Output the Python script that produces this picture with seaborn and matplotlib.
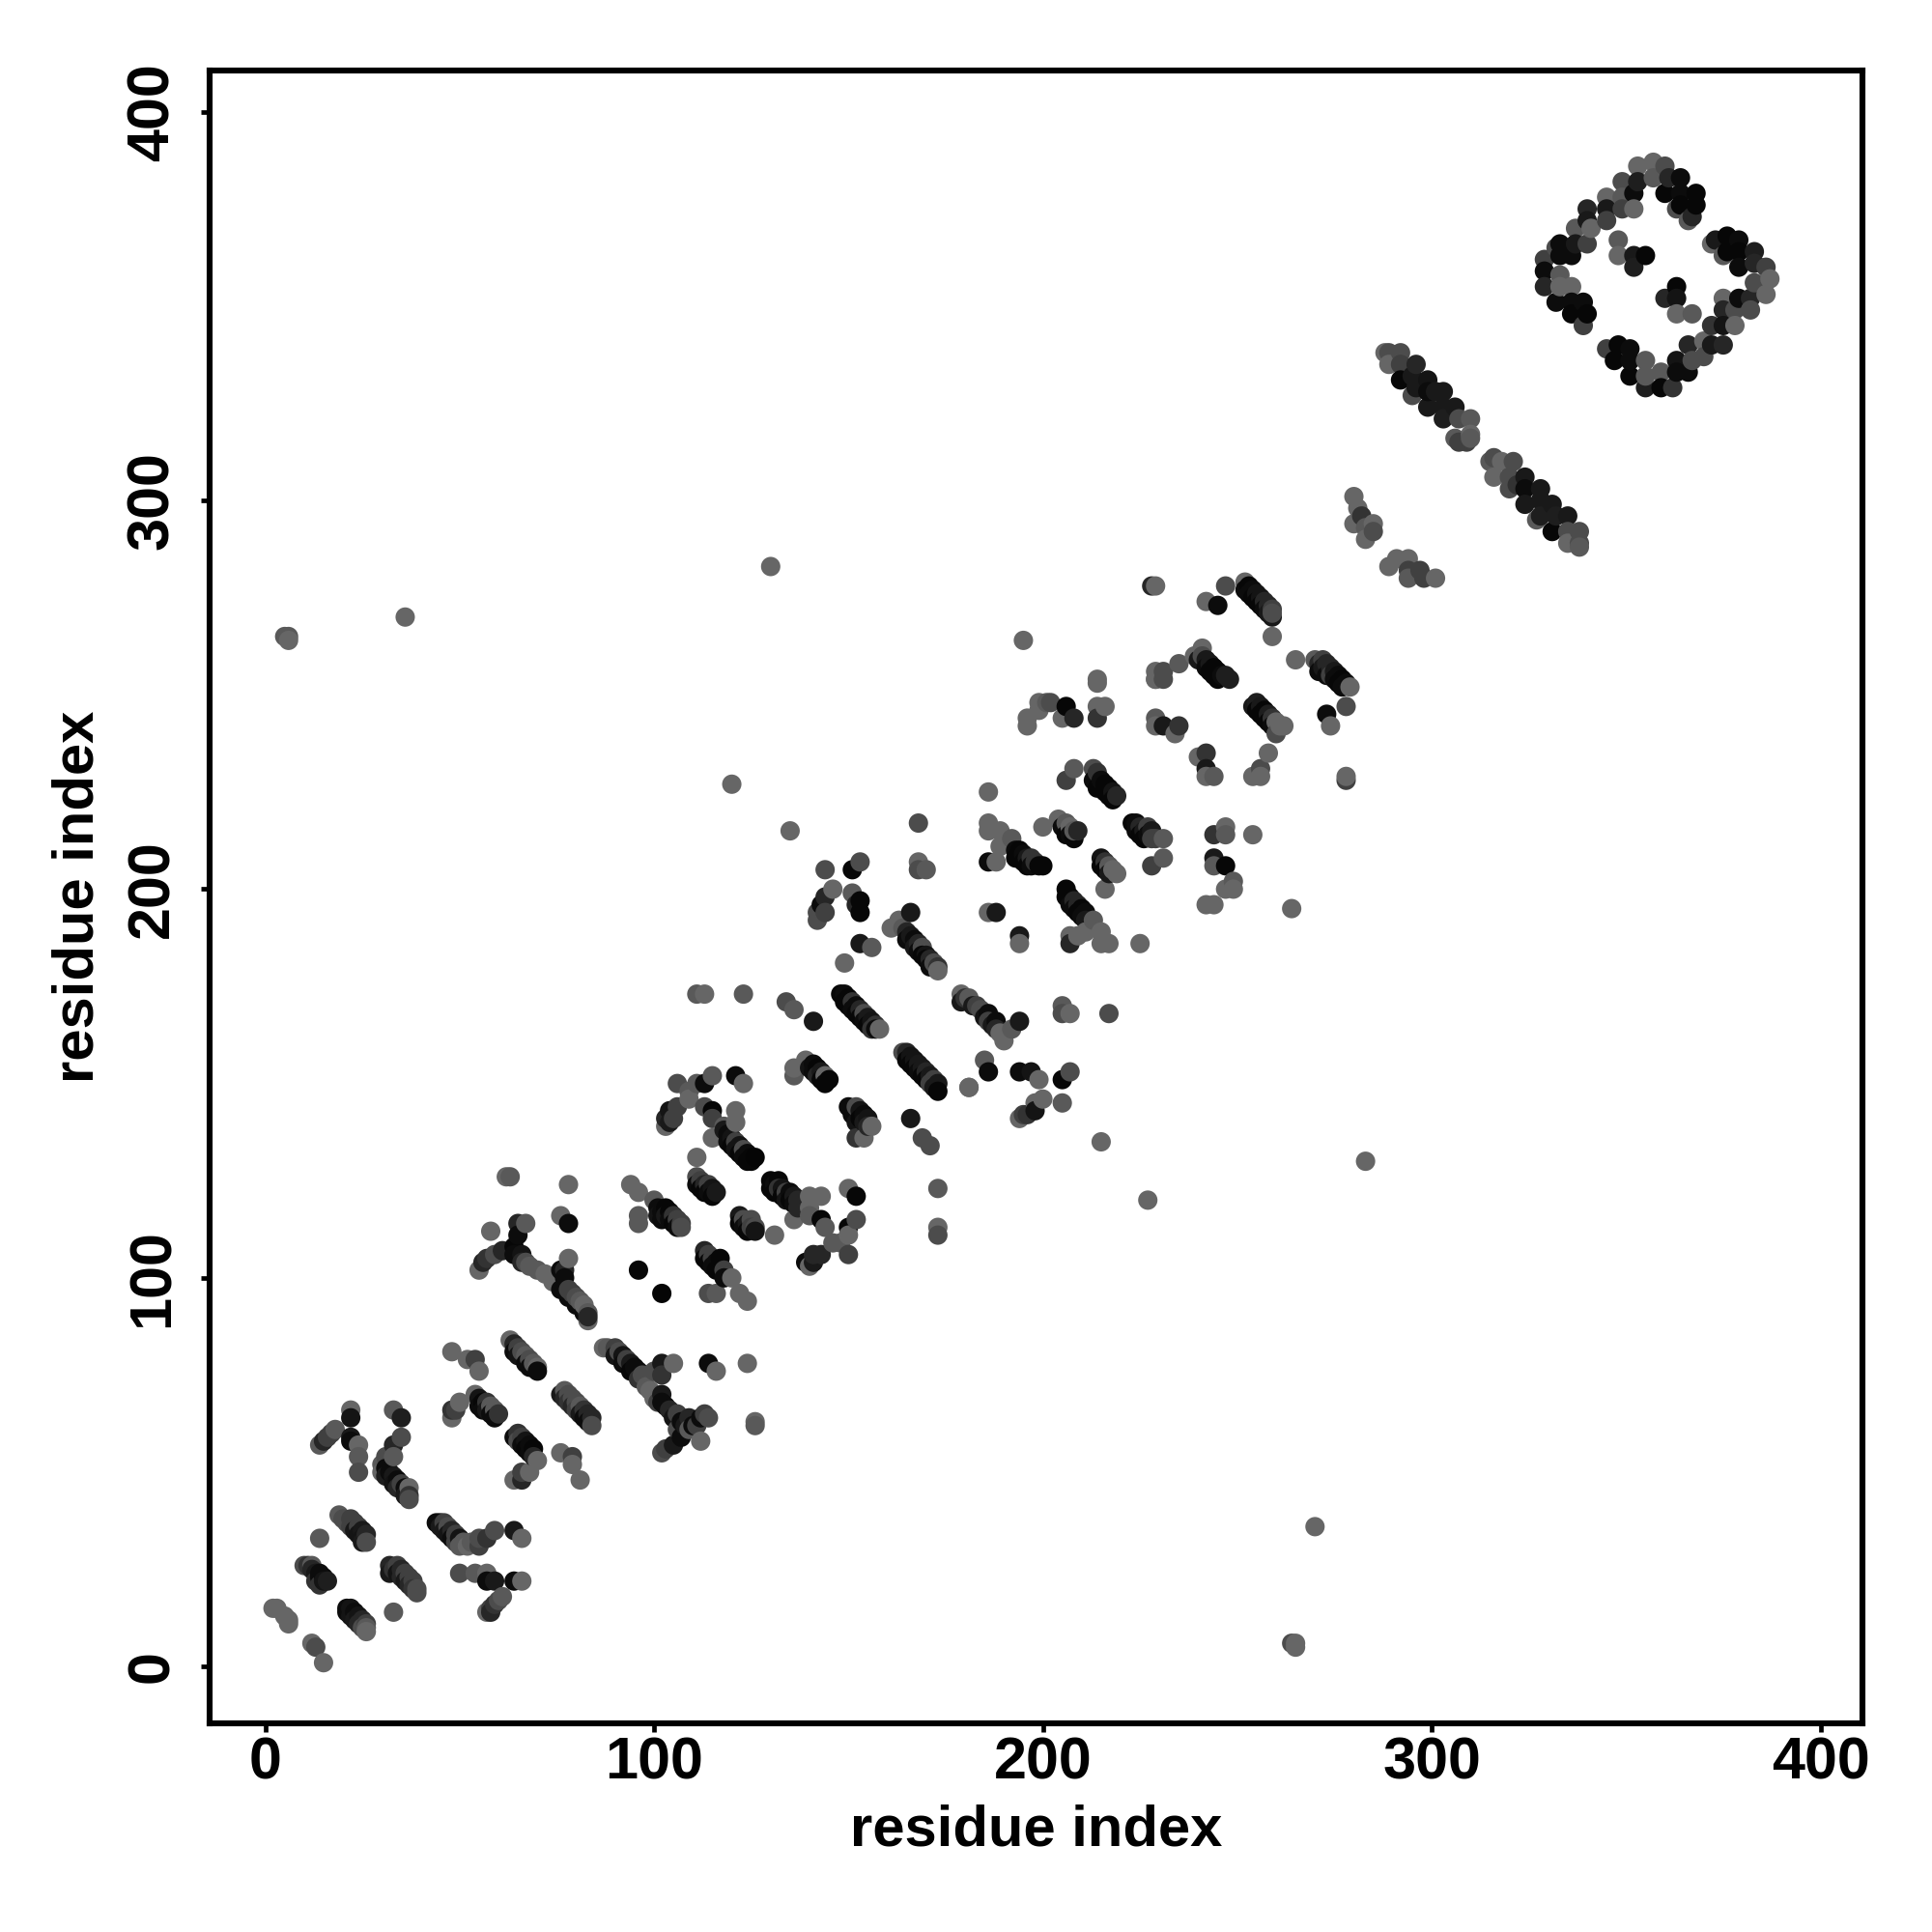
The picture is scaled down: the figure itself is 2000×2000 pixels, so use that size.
import matplotlib
matplotlib.use("Agg")
import matplotlib.pyplot as plt
import pandas as pd
import seaborn as sns

# each contact: (residue i, residue j, grey level in percent)
region_a = [(2,15,40),(3,15,40),(5,13,40),(6,12,40),(6,11,40),(12,6,40),(13,5,30),(15,1,40),
 (21,15,5),(21,14,5),(22,15,8),(22,13,8),(23,14,5),(23,12,10),(24,13,8),(24,11,15),(25,12,15),(25,10,30),(26,11,25),(26,10,35),(26,9,40),(33,14,35),
 (10,26,30),(11,26,20),(12,26,35),(12,25,15),(13,24,10),(13,22,20),(14,24,5),(14,23,5),(14,21,20),(15,23,5),(15,22,8),(16,22,12),(14,33,35),
 (19,39,35),(20,38,30),(21,37,30),(22,38,25),(22,36,25),(23,37,25),(23,35,10),(24,36,25),(24,34,8),(25,35,10),(25,33,8),(26,34,15),(26,32,30),(25,32,10),
 (32,26,15),(32,24,10),(33,25,20),(34,26,25),(34,24,8),(35,25,15),(35,23,15),(36,24,25),(36,22,10),(37,23,25),(37,21,15),(38,22,25),(38,20,20),(39,19,30),(39,20,30),
 (50,24,30),(54,24,35),(57,24,40),(57,22,5),(59,22,10),(64,22,5),(66,22,40),(61,18,35),(60,17,30),(59,16,20),(58,15,25),(57,14,40),(58,14,15)]
region_b = [(44,37,5),(45,37,5),(46,37,25),(45,36,10),(46,35,10),(47,36,30),(47,34,8),(48,35,15),(48,33,5),(49,34,25),(49,32,25),(50,33,8),(50,31,35),(51,32,35),(52,31,40),(53,32,35),(55,31,25),(55,33,30),(57,33,20),(59,35,30),
 (64,35,10),(66,33,40),(14,57,35),(15,58,15),(16,59,25),(18,61,35),(17,60,25),(22,66,40),(22,64,8),(22,59,10),(22,58,5),(24,57,40),(24,54,35),(24,50,30),
 (33,66,35),(35,64,12),(35,59,30),(33,57,15),(31,54,30),(33,54,35),(30,52,35),(30,50,40),(31,51,5),(31,49,12),(32,50,5),(33,49,10),(33,47,8),(34,48,5),(34,46,15),(35,47,25),(36,46,5),(36,44,10),(37,46,40),(37,44,20),(37,43,30),
 (48,81,40),(52,79,40),(54,79,25),(55,76,40),(63,84,40),(64,83,15),(64,81,5),(65,82,25),(65,80,8),(66,81,30),(67,80,35),(67,78,5),(68,79,30),(68,77,5),(69,78,35),(70,77,40),(70,76,5),
 (48,64,40),(48,66,20),(50,68,40),(49,66,25),(54,70,40),(55,69,8),(55,67,5),(56,68,3),(56,66,5),(57,68,20),(57,66,10),(58,67,35),(58,65,5),(59,66,35),(59,64,5),(60,65,20),
 (64,59,5),(65,60,20),(65,58,30),(66,59,25),(66,57,5),(67,58,8),(67,56,3),(68,57,5),(68,55,5),(69,56,3),(69,54,15),(70,53,40),(64,48,40),(66,48,15),(66,50,25),(68,50,40),(76,55,40),(79,54,25),(79,52,40),(81,48,40),
 (76,70,10),(77,71,35),(77,69,15),(78,70,30),(78,68,20),(79,69,30),(79,67,15),(80,68,30),(80,66,25),(81,67,35),(81,65,10),(82,66,20),(82,64,5),(83,65,15),(83,63,5),(84,64,15),(84,62,30)]
region_c = [(111,173,35),(113,173,40),(123,173,35),(134,171,30),(136,169,35),(141,166,10),
 (148,173,3),(149,173,5),(149,171,3),(150,172,3),(150,170,3),(151,171,20),(151,169,5),(152,170,5),(152,168,3),(153,169,15),(153,167,3),(154,168,30),(154,166,5),(155,167,10),(155,165,3),(156,166,8),(156,164,20),(157,165,20),(157,164,5),(158,164,40),
 (164,158,30),(165,158,15),(165,156,3),(166,157,8),(166,155,3),(167,156,8),(167,154,3),(168,155,10),(168,153,5),(169,154,10),(169,152,3),(170,153,15),(170,151,3),(171,152,10),(171,150,25),(172,151,25),(172,149,10),(173,150,10),(173,148,3),
 (166,141,10),(169,136,30),(171,134,30),(173,123,35),(173,113,40),(173,111,30),(181,149,40),
 (136,152,35),(136,154,40),(139,156,40),(140,154,8),(141,155,5),(141,153,5),(142,154,3),(142,152,15),(143,153,10),(143,151,3),(144,152,40),(144,150,3),(145,151,3),
 (150,144,5),(151,142,5),(152,144,30),(152,140,8),(153,143,8),(153,141,3),(154,142,5),(154,140,10),(155,141,8),(155,139,15),(156,139,40),(152,136,20),(154,136,40),
 (106,150,30),(111,150,35),(113,150,5),(115,152,35),(121,152,5),(123,150,40),(109,148,35),(109,146,40),(106,144,25),(104,143,8),(105,141,25),(104,140,10),(103,139,40),(103,141,15),
 (113,144,30),(115,143,3),(121,143,40),(121,140,40),(115,141,25),(118,139,35),(115,136,40),(111,131,40),
 (118,138,10),(119,137,5),(119,135,5),(120,136,8),(120,134,3),(121,135,25),(121,133,8),(122,134,8),(122,132,3),(123,133,30),(123,131,5),(124,132,5),(124,130,3),(125,131,3),(126,131,2),(125,130,3)]
region_d = [(78,124,40),(76,116,40),(78,114,5),(94,124,40),(96,122,40),(100,120,35),(96,116,35),(96,114,35),
 (101,118,5),(101,116,8),(102,117,5),(102,115,5),(103,118,3),(103,116,10),(104,117,3),(104,115,5),(105,116,20),(105,114,3),(106,115,25),(106,113,5),(107,114,25),(107,113,30),
 (111,126,30),(111,124,5),(112,125,25),(112,123,3),(113,124,15),(113,122,3),(114,124,25),(114,122,5),(115,123,8),(115,121,3),(116,122,10),
 (122,116,10),(122,114,3),(123,115,30),(123,113,5),(124,114,10),(124,112,3),(125,115,30),(125,113,25),(126,113,30),(126,112,8),(131,111,40),
 (130,125,3),(130,123,3),(131,124,5),(131,122,3),(132,125,3),(132,123,20),(133,123,8),(133,121,3),(134,122,25),(134,120,8),(135,122,5),(135,120,3),(136,121,10),(136,119,5),(137,120,15),(137,118,15),
 (140,121,40),(143,121,40),(150,123,40),(152,121,3),(136,115,40),(140,118,40),(140,116,35),(143,115,3),(144,113,35),(150,113,3),(152,115,30),(146,109,35),(148,109,35),(150,111,40),(150,106,25),
 (143,106,15),(141,104,10),(141,106,15),(140,103,40),(139,104,5),
 (113,107,15),(113,105,3),(114,106,25),(114,104,3),(115,105,25),(115,103,5),(116,104,5),(116,102,3),(117,105,3),(117,103,3),(118,102,25),(118,100,5),(120,100,40),(122,96,40),(124,94,40),(114,96,30),(116,96,35),
 (96,102,3),(102,96,2),
 (55,102,40),(56,104,15),(57,105,20),(58,112,40),(59,106,30),(61,107,15),(62,126,40),(63,126,35),(65,114,15),(67,114,35),(64,108,3),(64,106,5),(65,111,5),(66,106,8),(66,104,15),(67,104,30),(68,103,35),(70,102,35),(72,101,40),(74,99,40),
 (76,97,5),(76,102,5),(77,102,15),(78,105,40),(77,100,5),(78,95,5),(78,97,25),(79,96,25),(80,93,5),(80,95,30),(81,94,35),(82,91,5),(82,93,40),(83,91,35),(83,89,40),(83,90,15),
 (87,82,40),(88,82,35),(90,82,25),(90,80,8),(91,81,30),(92,80,8),(92,78,5),(93,79,25),(94,78,10),(94,76,3),(95,77,5),(96,76,5),(96,74,20),(97,75,30),(98,72,35),(99,71,40),(100,69,40),(101,68,25),(102,70,10),(102,68,5),
 (102,78,10),(105,78,40),(100,76,30),(102,75,20),(114,78,5),(116,76,40),(124,78,40),
 (103,67,5),(104,66,15),(105,64,8),(106,65,25),(106,61,30),(107,63,5),(108,62,10),(109,64,15),(110,62,5),(111,62,25),(112,64,5),(112,58,40),(113,65,25),(114,64,30),(102,55,30),(103,56,25),(105,57,10),(107,59,5),(109,61,35),(126,63,40),(126,62,35)]
region_e = [(135,215,40),(168,217,30),(186,225,40),(186,217,40),(186,215,40),(189,215,40),(192,213,35),(189,211,40),(188,207,40),(186,207,5),
 (193,210,5),(193,208,3),(194,210,3),(195,209,5),(195,207,3),(196,208,10),(196,206,3),(197,208,20),(197,206,5),(198,207,20),(199,206,3),(200,206,3),
 (200,216,40),(204,218,40),(205,216,5),(206,217,35),(206,214,3),(207,216,40),(207,214,5),(208,213,3),(209,215,15),(208,215,35),
 (206,228,25),(208,231,35),(213,231,30),(213,228,5),(214,230,20),(214,226,3),(215,228,5),(216,227,3),(216,225,3),(217,226,3),(217,224,3),(218,225,8),(218,223,3),(219,224,15),
 (223,217,3),(224,217,5),(224,215,5),(225,216,15),(225,214,3),(226,215,10),(226,213,3),(227,216,25),(227,214,5),(228,215,10),(228,213,25),(229,213,25),(231,213,35),(228,206,25),(231,208,35),
 (215,208,8),(215,206,3),(216,207,20),(216,205,3),(217,206,35),(217,204,10),(218,205,40),(219,204,40),(216,200,40),
 (206,200,3),(206,198,3),(207,198,3),(207,196,5),(208,197,15),(208,195,5),(209,196,15),(209,194,3),(210,195,3),(210,193,5),(211,194,5),(211,192,10),(213,192,35),(215,189,40),(217,186,40),(215,186,40),(207,188,40),(207,186,15),(209,188,40),(211,189,40),(225,186,40),
 (186,194,40),(188,194,10),(194,188,10),(194,186,40),
 (142,194,30),(142,192,30),(143,196,5),(144,198,15),(144,194,25),(146,200,40),(144,205,30),(151,205,3),(153,207,30),(151,199,35),(152,196,15),(153,197,3),(153,194,3),(153,186,10),(156,185,35),(149,181,40),
 (166,194,10),(161,190,40),(163,192,40),(164,190,35),(165,189,15),(165,187,5),(166,188,10),(167,187,5),(167,185,10),(168,186,15),(168,184,5),(169,185,30),(169,183,3),(170,183,8),(170,182,3),(171,182,15),(171,180,5),(172,181,30),(173,180,20),(173,179,40),
 (168,207,40),(170,205,35),(168,205,30),(195,264,40),
 (179,173,40),(179,171,10),(180,172,20),(181,172,35),(182,170,10),(183,170,25),(184,169,30),(185,167,8),(186,168,5),(186,166,25),(187,165,10),(188,166,5),(188,164,15),(189,163,40),(190,161,40),(192,164,35),(194,166,10),
 (181,149,40),(185,156,35),(186,153,5),(194,153,5),(197,153,8),(199,151,40),(205,151,3),(207,153,30),(205,170,35),(205,168,30),(207,168,40),(217,168,30),
 (200,146,40),(198,145,40),(198,143,8),(196,142,20),(205,145,35),(194,141,40),(195,142,25),(215,135,40),(227,120,40),(283,130,40),(270,36,40),(264,6,30),(265,6,40),(265,5,40),(6,265,35),(5,265,35),(6,264,40),(36,270,40),(130,283,40),(120,227,40),(264,195,40)]
region_f = [(196,244,40),(196,242,40),(199,248,40),(199,246,40),(201,248,35),(202,248,30),(206,247,3),(205,244,40),(208,244,15),(214,247,40),(216,247,40),(214,244,20),(214,253,40),(229,254,40),(231,254,30),(229,244,35),(229,242,40),(231,242,10),(235,242,20),(234,240,40),
 (228,278,15),(229,278,40),(242,274,40),(245,273,5),(247,278,30),
 (252,279,40),(252,277,5),(253,278,3),(253,276,5),(254,277,5),(254,275,3),(255,276,8),(255,274,3),(256,275,8),(256,273,3),(257,274,15),(257,272,5),(258,273,15),(258,271,10),(259,272,25),(259,270,10),(259,271,30),(259,265,40),
 (265,259,40),(270,259,35),(271,258,15),(271,256,5),(272,259,25),(272,257,10),(273,258,15),(273,255,5),(274,257,15),(274,255,25),(275,256,10),(275,254,5),(276,255,5),(276,253,3),(277,254,3),(277,252,5),(278,253,5),(279,252,40),(273,245,5),(274,242,40),(278,247,30),(278,228,25),(278,229,40),
 (239,260,40),(241,262,40),(240,259,10),(241,260,30),(242,259,10),(242,257,5),(243,258,10),(243,256,3),(244,257,3),(244,255,3),(245,256,3),(245,254,3),(246,255,5),(247,255,12),(248,254,12),(235,258,35),(229,256,40),(229,254,40),(231,256,30),(214,254,40),
 (254,247,10),(255,248,12),(255,246,3),(256,247,10),(256,245,3),(257,246,3),(257,244,3),(258,245,12),(258,243,3),(259,244,20),(259,242,5),(260,243,40),(260,240,30),(261,242,40),(262,242,40),(258,235,40),(256,231,30),(254,229,40),(256,229,40),
 (240,234,40),(242,235,20),(242,231,10),(242,229,40),(244,229,35),(244,196,40),(242,196,40),(249,202,35),(247,200,40),(249,200,40),(247,206,3),(244,208,10),(244,206,35),(244,214,20),(247,216,40),(247,214,35),(254,214,40)]
region_g = [(288,338,40),(289,338,30),(292,338,30),(289,335,40),(292,335,25),(292,331,3),(296,335,15),(295,332,10),(299,331,8),(295,327,30),(296,329,10),(299,324,10),(299,328,5),(301,328,10),(303,328,10),(303,324,10),(306,324,10),(303,321,12),(307,321,30),(310,321,35),(306,316,35),(307,315,25),(310,317,40),(309,315,25),(310,316,35),
 (315,310,35),(316,311,30),(318,310,40),(321,310,30),(316,306,40),(320,306,30),(322,304,20),(324,306,10),(320,303,30),(324,303,5),(328,303,10),(324,299,10),(328,300,10),(331,299,10),(327,295,35),(328,296,12),(332,296,12),(335,296,10),(331,292,3),(335,292,30),(338,292,30),(335,289,40),(338,289,30),(338,288,35),
 (289,283,40),(291,285,40),(294,285,40),(294,282,25),(294,280,35),(297,282,25),(298,280,25),(301,280,40),
 (280,301,40),(281,298,40),(280,294,40),(283,293,35),(285,294,40),(283,290,40),(285,292,30),(282,296,20)]
region_h = [(353,386,40),(357,387,40),(360,386,30),(357,383,35),(361,383,15),(364,383,5),(360,379,3),(364,379,5),(368,379,3),(364,376,3),(368,376,3),(363,375,30),(367,373,15),(366,372,35),
 (349,382,30),(353,382,12),(352,379,5),(349,378,35),(345,378,40),(352,375,40),(349,375,25),(345,375,10),(345,372,25),(340,375,15),(341,370,40),(340,372,10),(337,370,35),(340,366,25),(337,366,10),(333,366,5),(336,363,5),(333,363,5),(332,365,30),(329,362,25),(329,359,5),(333,358,35),(329,355,15),(333,355,40),(336,355,40),(332,351,5),(336,351,5),(339,351,5),(336,348,3),(340,348,3),(339,345,25),
 (372,366,40),(373,367,10),(376,368,3),(379,367,5),(376,364,3),(375,363,35),(379,364,3),(379,360,5),(383,364,12),(383,361,15),(386,360,25),(383,356,30),(387,357,40),(386,353,40),(382,352,15),(379,352,5),(375,352,40),(378,349,30),(382,349,30),(375,349,15),(375,345,8),(378,345,40),(372,345,20),
 (375,340,15),(372,340,10),(370,341,40),(366,340,15),(370,337,30),(367,336,30),(363,336,8),(366,333,5),(363,333,5),(362,329,20),(359,333,35),(359,329,3),(355,329,12),(355,332,35),(355,336,35),(351,332,3),(351,339,5),(348,340,3),(345,339,25),(347,336,3),(351,336,5),
 (348,367,35),(348,363,40),(352,363,10),(355,363,3),(352,360,12),(363,355,3),(360,352,15),(363,352,8),(363,348,40),(367,348,35)]

x_label = "residue index"
y_label = "residue index"
x_ticks = [0, 100, 200, 300, 400]
y_ticks = [0, 100, 200, 300, 400]

contacts = region_a + region_b + region_c + region_d + region_e + region_f + region_g + region_h
frame = pd.DataFrame(contacts, columns=["i", "j", "grey"])
frame = frame.sort_values("i", kind="stable")

sns.set_theme(style="white")
plt.rcParams["font.family"] = ["Liberation Sans", "DejaVu Sans"]
plt.rcParams["text.color"] = "black"
plt.rcParams["axes.labelcolor"] = "black"
plt.rcParams["xtick.color"] = "black"
plt.rcParams["ytick.color"] = "black"

fig = plt.figure(figsize=(10, 10), dpi=200)
ax = fig.add_axes([0.1085, 0.108, 0.8555, 0.8555])
sns.scatterplot(data=frame, x="i", y="j", hue="grey", palette="gray", hue_norm=(0, 100),
                s=52, linewidth=0, alpha=1, legend=False, ax=ax)
ax.set_xlim(-14.3, 410.8)
ax.set_ylim(-14.6, 410.6)
ax.set_xticks(x_ticks)
ax.set_yticks(y_ticks)
ax.tick_params(axis="x", length=3.2, width=1.7, color="black", labelcolor="black", labelsize=22, pad=1.5, bottom=True)
ax.tick_params(axis="y", length=3.2, width=1.7, color="black", labelcolor="black", labelsize=22, pad=7.5, left=True)
for lab in ax.get_xticklabels():
    lab.set_fontweight("bold")
for lab in ax.get_yticklabels():
    lab.set_fontweight("bold")
    lab.set_rotation(90)
    lab.set_verticalalignment("center")
ax.set_xlabel(x_label, fontsize=21.5, fontweight="bold", color="black", labelpad=5)
ax.set_ylabel(y_label, fontsize=21.5, fontweight="bold", color="black", labelpad=8)
for sp in ax.spines.values():
    sp.set_linewidth(2.2)
    sp.set_color("black")
fig.savefig("out.png", dpi=200, facecolor="white")
